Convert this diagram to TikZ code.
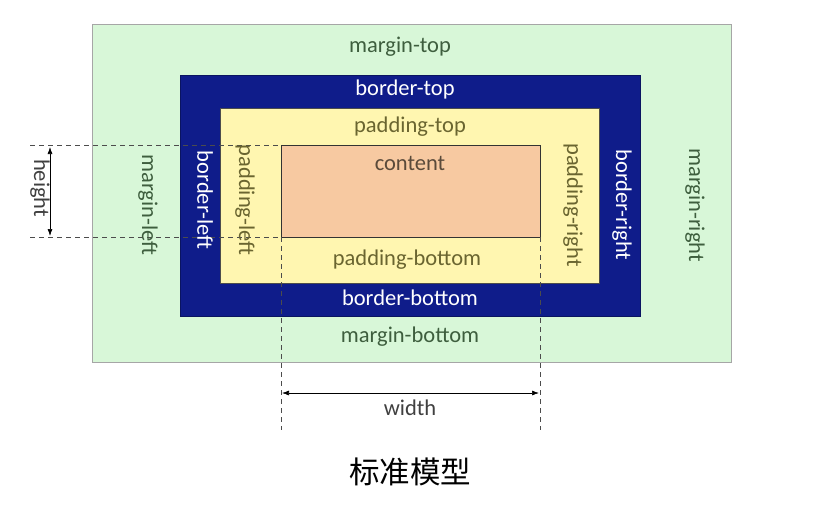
\documentclass[tikz,border=0pt]{standalone}
\usepackage{fontspec}
\setmainfont{Carlito}
\newfontfamily\cjk{Noto Sans CJK SC}
\usetikzlibrary{arrows.meta}
\definecolor{mgreen}{HTML}{D8F7D8}
\definecolor{mnavy}{HTML}{0F1C8A}
\definecolor{myellow}{HTML}{FFF6B0}
\definecolor{mpeach}{HTML}{F7C9A1}
\definecolor{tgreen}{HTML}{3E5E3E}
\definecolor{tolive}{HTML}{6A6530}
\definecolor{tbrown}{HTML}{5A4A3A}
\definecolor{tgray}{HTML}{404040}
\tikzset{
  lbl/.style={font=\fontsize{22.5}{26}\selectfont, inner sep=0pt},
  mlbl/.style={lbl, text=tgreen},
  blbl/.style={lbl, text=white},
  plbl/.style={lbl, text=tolive},
  dimline/.style={dashed, dash pattern=on 5pt off 4pt, draw=gray!60!black, line width=0.8pt},
  dimarrow/.style={{Latex[length=7pt,width=5pt]}-{Latex[length=7pt,width=5pt]}, line width=0.7pt, draw=black}
}
\begin{document}
\begin{tikzpicture}[x=1pt,y=-1pt]
\useasboundingbox[fill=white] (0,0) rectangle (816,504);
% boxes
\draw[fill=mgreen, draw=gray!70, line width=0.8pt] (92,24) rectangle (731,362);
\draw[fill=mnavy, draw=mnavy!70!black, line width=0.8pt] (180,75) rectangle (640,316);
\draw[fill=myellow, draw=gray!60!black, line width=0.6pt] (220,108) rectangle (599,283);
\draw[fill=mpeach, draw=gray!40!black, line width=0.6pt] (281,145) rectangle (540,237);
% dimension coordinates
\coordinate (htop) at (30,145);
\coordinate (hbot) at (30,237);
\coordinate (ctl) at (281,145);
\coordinate (cbl) at (281,237);
\coordinate (cbr) at (540,237);
\coordinate (wl) at (281,430);
\coordinate (wr) at (540,430);
\coordinate (ha) at (50,147);
\coordinate (hb) at (50,236);
\coordinate (wa) at (282,393);
\coordinate (wb) at (539,393);
\draw[dimline] (htop) -- (ctl);
\draw[dimline] (hbot) -- (cbl);
\draw[dimline] (cbl) -- (wl);
\draw[dimline] (cbr) -- (wr);
\draw[dimarrow] (ha) -- (hb);
\draw[dimarrow] (wa) -- (wb);
\node[lbl, text=tgray, rotate=-90] (height) at (40,188) {height};
\node[lbl, text=tgray] (width) at (410,408) {width};
% labels
\node[mlbl] (mt) at (400,47) {margin-top};
\node[mlbl] (mb) at (410,337) {margin-bottom};
\node[mlbl, rotate=-90] (ml) at (148,205) {margin-left};
\node[mlbl, rotate=-90] (mr) at (695,205) {margin-right};
\node[blbl] (bt) at (405,89) {border-top};
\node[blbl] (bb) at (410,298) {border-bottom};
\node[blbl, rotate=-90] (bl) at (205,200) {border-left};
\node[blbl, rotate=-90] (br) at (622,205) {border-right};
\node[plbl] (pt) at (410,127) {padding-top};
\node[plbl] (pb) at (407,260) {padding-bottom};
\node[plbl, rotate=-90] (pl) at (245,200) {padding-left};
\node[plbl, rotate=-90] (pr) at (573,205) {padding-right};
\node[lbl, text=tbrown] (ct) at (410,163) {content};
\node[font=\cjk\fontsize{30.5}{34}\selectfont, text=black, inner sep=0pt] (title) at (410,472) {标准模型};
\end{tikzpicture}
\end{document}
